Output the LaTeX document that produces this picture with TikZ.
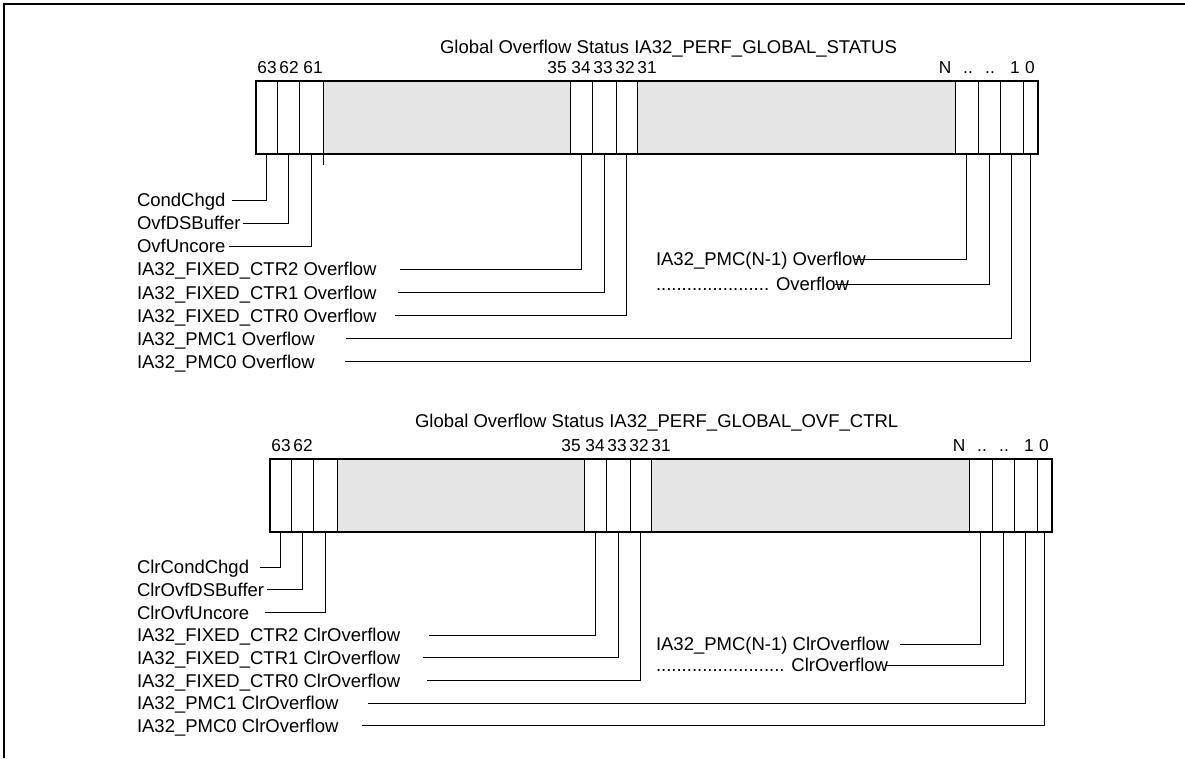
\documentclass[tikz,border=0pt]{standalone}
\usepackage{fontspec}
\setmainfont{Liberation Sans}
\usetikzlibrary{positioning}
\definecolor{reggray}{RGB}{229,229,229}

\begin{document}
\begin{tikzpicture}[x=1pt, y=-1pt,
    every node/.style={font=\fontsize{18.5}{22}\selectfont, inner sep=0pt, outer sep=0pt},
    cell/.style={draw, line width=0.7pt, minimum height=73pt},
    bit/.style={anchor=center, text height=13.2pt, text depth=0pt, font=\fontsize{17.3}{20}\selectfont},
    lbl/.style={anchor=west, text height=13.2pt, text depth=0pt},
    lead/.style={line width=0.9pt}]
    \useasboundingbox (0,0) rectangle (1185,758);
    \draw[line width=2pt] (4,758) -- (4,4) -- (1185,4);

    % the two registers (t = STATUS, b = OVF_CTRL)
    \foreach \p/\dx/\dy/\hi in {t/0/0/61, b/14/378/} {
      \begin{scope}[shift={(\dx,\dy)}]
        \coordinate (\p st) at (256,117.5);
        \foreach \n/\w/\f [remember=\n as \last (initially st)] in
            {63/21/white, 62/22/white, 61/24/white, gA/247/reggray, 34/22/white, 33/24/white,
             32/21/white, gB/318/reggray, N/23/white, D/22/white, 1/23/white, 0/15/white}
          \node[cell, fill=\f, minimum width=\w pt, right=0pt of \p\last] (\p\n) {};
        \draw[line width=1.4pt] (\p63.north west) rectangle (\p0.south east);
        \foreach \b/\x in {63/267, 62/289, \hi/313, 35/557, 34/581, 33/603, 32/625, 31/647,
                           N/945, ../968, ../990, 1/1015, 0/1030}
          \node[bit] (\p bit\x) at (\x,67) {\b};
      \end{scope}
    }
    \draw[line width=0.7pt] (t61.south east) -- ++(0,11);

    \node[lbl] (ttl1) at (440,47) {Global Overflow Status IA32\_PERF\_GLOBAL\_STATUS};
    \node[lbl] (ttl2) at (415,421) {Global Overflow Status IA32\_PERF\_GLOBAL\_OVF\_CTRL};

    % IA32_PERF_GLOBAL_STATUS
    \node[lbl] (cond) at (137,200) {CondChgd};
    \node[lbl, below right=9.9pt and 0pt of cond.south west] (dsbuf) {OvfDSBuffer};
    \node[lbl, below right=9.9pt and 0pt of dsbuf.south west] (uncore) {OvfUncore};
    \node[lbl, below right=9.9pt and 0pt of uncore.south west] (fix2) {IA32\_FIXED\_CTR2 Overflow};
    \node[lbl, below right=9.9pt and 0pt of fix2.south west] (fix1) {IA32\_FIXED\_CTR1 Overflow};
    \node[lbl, below right=9.9pt and 0pt of fix1.south west] (fix0) {IA32\_FIXED\_CTR0 Overflow};
    \node[lbl, below right=9.9pt and 0pt of fix0.south west] (pmc1) {IA32\_PMC1 Overflow};
    \node[lbl, below right=9.9pt and 0pt of pmc1.south west] (pmc0) {IA32\_PMC0 Overflow};
    \node[lbl] (pmcn) at (656,259) {IA32\_PMC(N-1) Overflow};
    \node[lbl, below right=11.8pt and 0pt of pmcn.south west] (pmcd) {...................... Overflow};

    \draw[lead] ([xshift=7pt]cond.east) -| (t63.south);
    \draw[lead] ([xshift=2pt]dsbuf.east) -| (t62.south);
    \draw[lead] ([xshift=4pt]uncore.east) -| (t61.south);
    \draw[lead] ([xshift=23pt]fix2.east) -| (t34.south);
    \draw[lead] ([xshift=21pt]fix1.east) -| (t33.south);
    \draw[lead] ([xshift=18pt]fix0.east) -| (t32.south);
    \draw[lead] ([xshift=31pt]pmc1.east) -| (t1.south);
    \draw[lead] ([xshift=30pt]pmc0.east) -| (t0.south);
    \draw[lead] ([xshift=-11pt]pmcn.east) -| (tN.south);
    \draw[lead] ([xshift=-14pt]pmcd.east) -| (tD.south);

    % IA32_PERF_GLOBAL_OVF_CTRL
    \node[lbl] (ccond) at (137,567) {ClrCondChgd};
    \node[lbl, below right=9.5pt and 0pt of ccond.south west] (cdsbuf) {ClrOvfDSBuffer};
    \node[lbl, below right=9.5pt and 0pt of cdsbuf.south west] (cuncore) {ClrOvfUncore};
    \node[lbl, below right=9.5pt and 0pt of cuncore.south west] (cfix2) {IA32\_FIXED\_CTR2 ClrOverflow};
    \node[lbl, below right=9.5pt and 0pt of cfix2.south west] (cfix1) {IA32\_FIXED\_CTR1 ClrOverflow};
    \node[lbl, below right=9.5pt and 0pt of cfix1.south west] (cfix0) {IA32\_FIXED\_CTR0 ClrOverflow};
    \node[lbl, below right=9.5pt and 0pt of cfix0.south west] (cpmc1) {IA32\_PMC1 ClrOverflow};
    \node[lbl, below right=9.5pt and 0pt of cpmc1.south west] (cpmc0) {IA32\_PMC0 ClrOverflow};
    \node[lbl] (cpmcn) at (656,644) {IA32\_PMC(N-1) ClrOverflow};
    \node[lbl, below right=7.8pt and 0pt of cpmcn.south west] (cpmcd) {......................... ClrOverflow};

    \draw[lead] ([xshift=11pt]ccond.east) -| (b63.south);
    \draw[lead] ([xshift=3pt]cdsbuf.east) -| (b62.south);
    \draw[lead] ([xshift=16pt]cuncore.east) -| (b61.south);
    \draw[lead] ([xshift=29pt]cfix2.east) -| (b34.south);
    \draw[lead] ([xshift=23pt]cfix1.east) -| (b33.south);
    \draw[lead] ([xshift=27pt]cfix0.east) -| (b32.south);
    \draw[lead] ([xshift=29pt]cpmc1.east) -| (b1.south);
    \draw[lead] ([xshift=23pt]cpmc0.east) -| (b0.south);
    \draw[lead] ([xshift=11pt]cpmcn.east) -| (bN.south);
    \draw[lead] ([xshift=-3pt]cpmcd.east) -| (bD.south);
\end{tikzpicture}
\end{document}
